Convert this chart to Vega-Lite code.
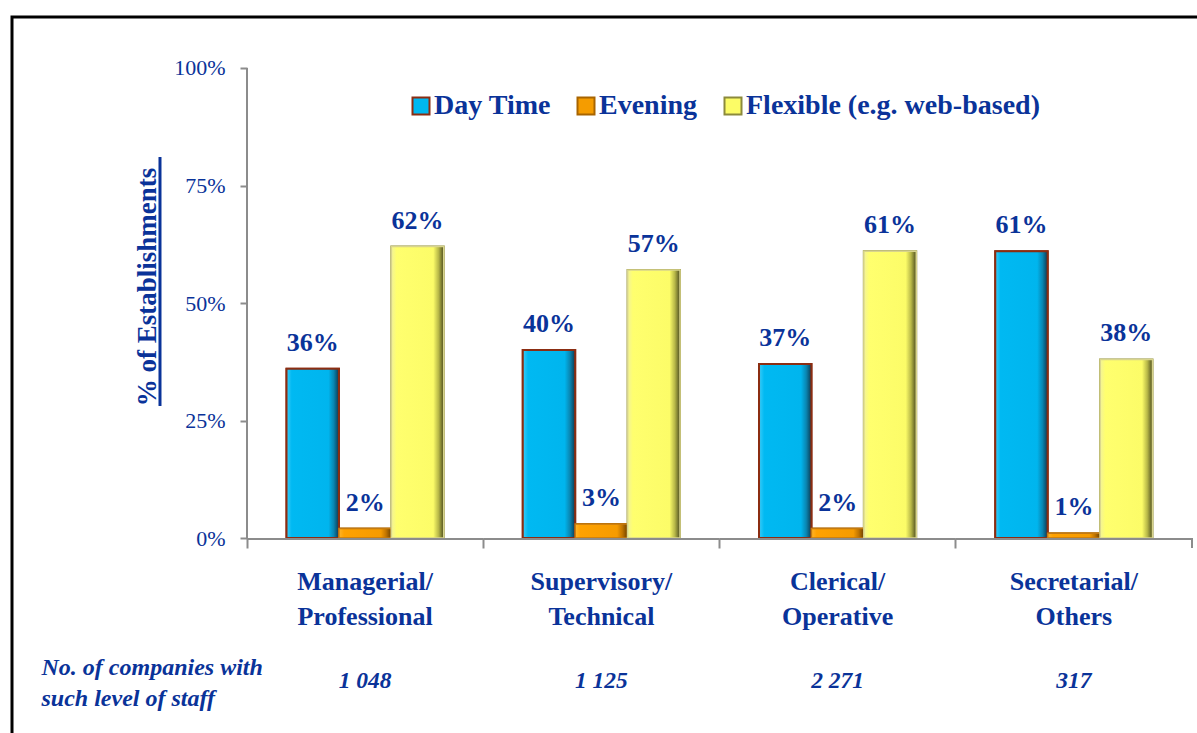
{
  "$schema": "https://vega.github.io/schema/vega-lite/v6.json",
  "width": 1185,
  "height": 716,
  "autosize": {"type": "none"},
  "padding": {"left": 12, "top": 17, "right": 0, "bottom": 0},
  "background": "white",
  "config": {
    "font": "Liberation Serif",
    "view": {"stroke": "#000000", "strokeWidth": 3, "strokeDash": [1185, 1901, 716]},
    "axis": {"grid": false}
  },
  "datasets": {
    "shares": [
      {"category": "Managerial/Professional", "series": "Day Time", "share": 0.36},
      {"category": "Managerial/Professional", "series": "Evening", "share": 0.02},
      {"category": "Managerial/Professional", "series": "Flexible (e.g. web-based)", "share": 0.62},
      {"category": "Supervisory/Technical", "series": "Day Time", "share": 0.40},
      {"category": "Supervisory/Technical", "series": "Evening", "share": 0.03},
      {"category": "Supervisory/Technical", "series": "Flexible (e.g. web-based)", "share": 0.57},
      {"category": "Clerical/Operative", "series": "Day Time", "share": 0.37},
      {"category": "Clerical/Operative", "series": "Evening", "share": 0.02},
      {"category": "Clerical/Operative", "series": "Flexible (e.g. web-based)", "share": 0.61},
      {"category": "Secretarial/Others", "series": "Day Time", "share": 0.61},
      {"category": "Secretarial/Others", "series": "Evening", "share": 0.01},
      {"category": "Secretarial/Others", "series": "Flexible (e.g. web-based)", "share": 0.38}
    ],
    "companies": [
      {"category": "Managerial/Professional", "companies": "1 048"},
      {"category": "Supervisory/Technical", "companies": "1 125"},
      {"category": "Clerical/Operative", "companies": "2 271"},
      {"category": "Secretarial/Others", "companies": "317"}
    ]
  },
  "layer": [
    {
      "data": {"name": "shares"},
      "mark": {"type": "bar", "strokeWidth": 2},
      "encoding": {
        "x": {
          "field": "category",
          "type": "nominal",
          "scale": {
            "domain": ["Managerial/Professional", "Supervisory/Technical", "Clerical/Operative", "Secretarial/Others"],
            "paddingInner": 0,
            "paddingOuter": 0.50794,
            "align": 0.97917
          },
          "axis": {
            "title": ["No. of companies with", "such level of staff"],
            "titleX": 29,
            "titleY": 117,
            "titleAlign": "left",
            "titleBaseline": "top",
            "titleFontStyle": "italic",
            "titleFontWeight": "bold",
            "titleFontSize": 24,
            "titleColor": "#0a3399",
            "titleLineHeight": 31.5,
            "offset": -195,
            "domain": false,
            "bandPosition": 0,
            "tickSize": 10,
            "tickWidth": 2,
            "tickColor": "#8c8c8c",
            "labelPadding": 20.5,
            "labelFontSize": 26,
            "labelFontWeight": "bold",
            "labelColor": "#0a3399",
            "labelLineHeight": 35,
            "labelAngle": 0,
            "labelLimit": 300,
            "labelOverlap": false,
            "labelExpr": "[split(datum.label, '/')[0] + '/', split(datum.label, '/')[1]]"
          }
        },
        "xOffset": {
          "field": "series",
          "type": "nominal",
          "scale": {"domain": ["Day Time", "Evening", "Flexible (e.g. web-based)"], "paddingInner": 0, "paddingOuter": 0.754}
        },
        "y": {
          "field": "share",
          "type": "quantitative",
          "scale": {"domain": [-0.41489, 1.10851], "nice": false, "zero": false},
          "axis": {
            "title": "% of Establishments",
            "values": [0, 0.25, 0.5, 0.75, 1],
            "format": ".0%",
            "offset": -235,
            "domain": false,
            "tickSize": 7,
            "tickWidth": 2,
            "tickColor": "#8c8c8c",
            "labelPadding": 15,
            "labelFontSize": 22,
            "labelColor": "#0a3399",
            "titleFontSize": 27,
            "titleFontWeight": "bold",
            "titleColor": "#0a3399",
            "titleAngle": 270,
            "titleX": -92,
            "titleY": 269.5,
            "titleAlign": "center",
            "titleBaseline": "alphabetic"
          }
        },
        "color": {
          "field": "series",
          "type": "nominal",
          "scale": {
            "domain": ["Day Time", "Evening", "Flexible (e.g. web-based)"],
            "range": ["#00b8f0", "#f59c00", "#fcfc66"]
          },
          "legend": {
            "orient": "none",
            "legendX": 395,
            "legendY": 75,
            "direction": "horizontal",
            "title": null,
            "symbolType": "square",
            "symbolSize": 289,
            "symbolStrokeWidth": 2,
            "symbolOpacity": 1,
            "labelFontSize": 28,
            "labelFontWeight": "bold",
            "labelColor": "#0a3399",
            "labelLimit": 400,
            "labelOffset": -1,
            "columnPadding": 21
          }
        },
        "stroke": {
          "field": "series",
          "type": "nominal",
          "scale": {
            "domain": ["Day Time", "Evening", "Flexible (e.g. web-based)"],
            "range": ["#8b2d12", "#a86400", "#8c8a3c"]
          }
        }
      }
    },
    {
      "data": {"name": "shares"},
      "transform": [{"filter": "datum.series === 'Day Time'"}],
      "mark": {"type": "bar", "strokeWidth": 2, "stroke": "#8b2d12",
        "color": {"gradient": "linear", "x1": 0, "y1": 0, "x2": 1, "y2": 0, "stops": [
          {"offset": 0, "color": "#3ccdf8"}, {"offset": 0.1, "color": "#00b9f2"}, {"offset": 0.8, "color": "#00b5ee"}, {"offset": 0.9, "color": "#0a86b2"}, {"offset": 1, "color": "#0b3a52"}]}},
      "encoding": {
        "x": {"field": "category", "type": "nominal"},
        "xOffset": {"field": "series", "type": "nominal"},
        "y": {"field": "share", "type": "quantitative"}
      }
    },
    {
      "data": {"name": "shares"},
      "transform": [{"filter": "datum.series === 'Evening'"}],
      "mark": {"type": "bar", "strokeWidth": 1.5, "stroke": "#c47a10",
        "color": {"gradient": "linear", "x1": 0, "y1": 0, "x2": 1, "y2": 0, "stops": [
          {"offset": 0, "color": "#ffb52a"}, {"offset": 0.1, "color": "#ffa200"}, {"offset": 0.8, "color": "#f59b00"}, {"offset": 0.9, "color": "#c07400"}, {"offset": 1, "color": "#6b4000"}]}},
      "encoding": {
        "x": {"field": "category", "type": "nominal"},
        "xOffset": {"field": "series", "type": "nominal"},
        "y": {"field": "share", "type": "quantitative"}
      }
    },
    {
      "data": {"name": "shares"},
      "transform": [{"filter": "datum.series === 'Flexible (e.g. web-based)'"}],
      "mark": {"type": "bar", "strokeWidth": 1.5, "stroke": "#d8d48c",
        "color": {"gradient": "linear", "x1": 0, "y1": 0, "x2": 1, "y2": 0, "stops": [
          {"offset": 0, "color": "#f2f29a"}, {"offset": 0.1, "color": "#ffff6e"}, {"offset": 0.8, "color": "#fcfc68"}, {"offset": 0.9, "color": "#b8b848"}, {"offset": 1, "color": "#4d4d20"}]}},
      "encoding": {
        "x": {"field": "category", "type": "nominal"},
        "xOffset": {"field": "series", "type": "nominal"},
        "y": {"field": "share", "type": "quantitative"}
      }
    },
    {
      "data": {"name": "shares"},
      "mark": {"type": "text", "fontSize": 26, "fontWeight": "bold", "color": "#0a3399", "baseline": "alphabetic", "align": "center", "dy": -18},
      "encoding": {
        "x": {"field": "category", "type": "nominal"},
        "xOffset": {"field": "series", "type": "nominal"},
        "y": {"field": "share", "type": "quantitative"},
        "text": {"field": "share", "type": "quantitative", "format": ".0%"}
      }
    },
    {
      "data": {"name": "companies"},
      "mark": {"type": "text", "fontSize": 23.5, "fontWeight": "bold", "fontStyle": "italic", "color": "#0a3399", "baseline": "alphabetic", "align": "center"},
      "encoding": {
        "x": {"field": "category", "type": "nominal"},
        "y": {"datum": -0.3191, "type": "quantitative"},
        "text": {"field": "companies", "type": "nominal"}
      }
    },
    {
      "data": {"name": "companies"},
      "mark": {"type": "bar", "color": "#8c8c8c"},
      "encoding": {
        "x": {"field": "category", "type": "nominal"},
        "y": {"datum": 0, "type": "quantitative"},
        "y2": {"datum": -0.0043}
      }
    },
    {
      "data": {"values": [{"line": "y axis"}]},
      "mark": {"type": "rule", "color": "#8c8c8c", "strokeWidth": 2},
      "encoding": {
        "x": {"datum": "Managerial/Professional", "type": "nominal", "bandPosition": 0},
        "y": {"datum": 0, "type": "quantitative"},
        "y2": {"datum": 1}
      }
    },
    {
      "data": {"values": [{"line": "last tick"}]},
      "mark": {"type": "rule", "color": "#8c8c8c", "strokeWidth": 2},
      "encoding": {
        "x": {"datum": "Secretarial/Others", "type": "nominal", "bandPosition": 1},
        "y": {"datum": 0, "type": "quantitative"},
        "y2": {"datum": -0.0213}
      }
    },
    {
      "data": {"values": [{"line": "title underline"}]},
      "mark": {"type": "rule", "color": "#0a3399", "strokeWidth": 3},
      "encoding": {
        "x": {"datum": "Managerial/Professional", "type": "nominal", "bandPosition": -0.3683},
        "y": {"datum": 0.2809, "type": "quantitative"},
        "y2": {"datum": 0.8106}
      }
    }
  ]
}
